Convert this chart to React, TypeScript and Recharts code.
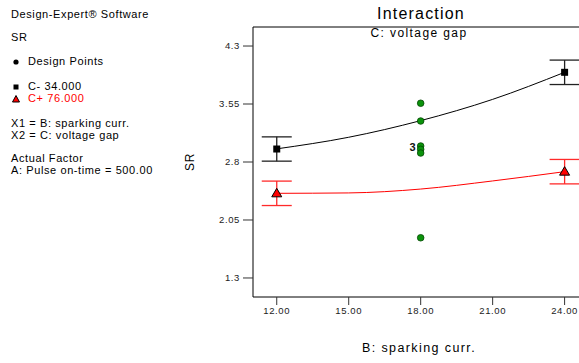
import React from 'react';
import {
  ComposedChart,
  Line,
  Scatter,
  XAxis,
  YAxis,
  ErrorBar,
  ReferenceLine,
} from 'recharts';

// B: sparking curr. levels
const xTicks = [12, 15, 18, 21, 24];
const yTicks = [1.3, 2.05, 2.8, 3.55, 4.3];

// fitted interaction curves, read at each x tick
const curveX = [12, 15, 18, 21, 24];
const cMinusCurve = [2.97, 3.12, 3.335, 3.61, 3.96];
const cPlusCurve = [2.395, 2.4, 2.45, 2.555, 2.675];

// predicted means at the factorial levels, with their LSD bars
const endX = [12, 24];
const cMinusMean = [2.968, 3.96];
const cMinusErr = [0.157, 0.158];
const cPlusMean = [2.395, 2.675];
const cPlusErr = [0.158, 0.158];

// design points at the centre of B
const designX = [18, 18, 18, 18, 18, 18];
const designY = [3.56, 3.33, 3.007, 2.964, 2.916, 1.82];
const replicateLabel = { x: 18, y: 2.99, text: '3' };

const X_DOMAIN: [number, number] = [11.01, 24.6];
const Y_DOMAIN: [number, number] = [1.054, 4.546];

const lineMinus = curveX.map((x, i) => ({ x, y: cMinusCurve[i] }));
const linePlus = curveX.map((x, i) => ({ x, y: cPlusCurve[i] }));
const pointsMinus = endX.map((x, i) => ({ x, y: cMinusMean[i], err: cMinusErr[i] }));
const pointsPlus = endX.map((x, i) => ({ x, y: cPlusMean[i], err: cPlusErr[i] }));
const design = designX.map((x, i) => ({ x, y: designY[i] }));

const FONT = '"Liberation Sans", Arial, sans-serif';

const SquareMark = (p: any) => (
  <rect x={p.cx - 3.5} y={p.cy - 3.5} width={7} height={7} fill="#000" />
);

const TriangleMark = (p: any) => (
  <polygon
    points={`${p.cx - 5},${p.cy + 3.5} ${p.cx + 5},${p.cy + 3.5} ${p.cx},${p.cy - 5}`}
    fill="#ff0000"
    stroke="#000"
    strokeWidth={1}
  />
);

const DesignDot = (p: any) => (
  <circle cx={p.cx} cy={p.cy} r={3.3} fill="#0b930b" stroke="#044804" strokeWidth={0.8} />
);

const CountMark = (p: any) => (
  <text
    x={p.cx - 8}
    y={p.cy + 4}
    textAnchor="middle"
    fontFamily={FONT}
    fontSize={11}
    fontWeight="bold"
    fill="#111"
  >
    {replicateLabel.text}
  </text>
);

const Txt = ({ x, y, children, color = '#000', size = 11, spacing = 0.6, center = false }: any) => (
  <div
    style={{
      position: 'absolute',
      left: x,
      top: y,
      fontFamily: FONT,
      fontSize: size,
      lineHeight: '13px',
      letterSpacing: spacing,
      color,
      whiteSpace: 'nowrap',
      transform: center ? 'translateX(-50%)' : undefined,
    }}
  >
    {children}
  </div>
);

export default function App() {
  return (
    <div
      style={{
        position: 'absolute',
        left: 0,
        top: 0,
        width: 579,
        height: 363,
        overflow: 'hidden',
        background: '#fff',
      }}
    >
      <ComposedChart
        width={579}
        height={363}
        margin={{ top: 27, right: 0, bottom: 0, left: 0 }}
      >
        <XAxis
          dataKey="x"
          type="number"
          domain={X_DOMAIN}
          ticks={xTicks}
          allowDataOverflow
          height={66}
          tickFormatter={(v: number) => v.toFixed(2)}
          tick={{ fill: '#222', fontSize: 9.5, fontFamily: FONT, letterSpacing: 0.6 }}
          tickSize={8}
          tickMargin={2}
          axisLine={{ stroke: '#000' }}
          tickLine={{ stroke: '#333' }}
        />
        <YAxis
          type="number"
          domain={Y_DOMAIN}
          ticks={yTicks}
          allowDataOverflow
          width={253}
          tickFormatter={(v: number) => String(v)}
          tick={{ fill: '#222', fontSize: 9.5, fontFamily: FONT, letterSpacing: 0.6 }}
          tickSize={10}
          tickMargin={3}
          axisLine={{ stroke: '#000' }}
          tickLine={{ stroke: '#333' }}
        />
        <ReferenceLine y={Y_DOMAIN[1]} stroke="#000" />
        <Line
          data={lineMinus}
          dataKey="y"
          type="monotone"
          stroke="#000"
          strokeWidth={1}
          dot={false}
          isAnimationActive={false}
        />
        <Line
          data={linePlus}
          dataKey="y"
          type="monotone"
          stroke="#ff0000"
          strokeWidth={1}
          dot={false}
          isAnimationActive={false}
        />
        <Scatter data={pointsMinus} dataKey="y" shape={SquareMark} isAnimationActive={false}>
          <ErrorBar dataKey="err" direction="y" width={15} stroke="#222" strokeWidth={1.3} />
        </Scatter>
        <Scatter data={pointsPlus} dataKey="y" shape={TriangleMark} isAnimationActive={false}>
          <ErrorBar dataKey="err" direction="y" width={15} stroke="#ff2a2a" strokeWidth={1.3} />
        </Scatter>
        <Scatter data={design} dataKey="y" shape={DesignDot} isAnimationActive={false} />
        <Scatter
          data={[{ x: replicateLabel.x, y: replicateLabel.y }]}
          dataKey="y"
          shape={CountMark}
          isAnimationActive={false}
        />
      </ComposedChart>

      {/* left info panel */}
      <Txt x={11} y={8}>Design-Expert® Software</Txt>
      <Txt x={11} y={31}>SR</Txt>
      <svg style={{ position: 'absolute', left: 0, top: 0 }} width={30} height={110}>
        <circle cx={16} cy={62} r={2.6} fill="#000" />
        <rect x={13.5} y={84.5} width={5} height={5} fill="#000" />
        <polygon points="12.5,102 19.5,102 16,95.5" fill="#ff0000" stroke="#000" strokeWidth={1} />
      </svg>
      <Txt x={28} y={55}>Design Points</Txt>
      <Txt x={28} y={80}>C- 34.000</Txt>
      <Txt x={28} y={92} color="#ff0000">C+ 76.000</Txt>
      <Txt x={11} y={117}>X1 = B: sparking curr.</Txt>
      <Txt x={11} y={129}>X2 = C: voltage gap</Txt>
      <Txt x={11} y={152}>Actual Factor</Txt>
      <Txt x={11} y={164}>A: Pulse on-time = 500.00</Txt>

      {/* titles */}
      <Txt x={421} y={7} size={16} spacing={1.2} center>Interaction</Txt>
      <Txt x={419} y={27} size={12} spacing={1.4} center>C: voltage gap</Txt>
      <Txt x={419} y={342} size={12.5} spacing={1.4} center>B: sparking curr.</Txt>
      <div
        style={{
          position: 'absolute',
          left: 190,
          top: 162,
          transform: 'translate(-50%, -50%) rotate(-90deg)',
          fontFamily: FONT,
          fontSize: 12,
          letterSpacing: 0.6,
          whiteSpace: 'nowrap',
        }}
      >
        SR
      </div>
    </div>
  );
}
